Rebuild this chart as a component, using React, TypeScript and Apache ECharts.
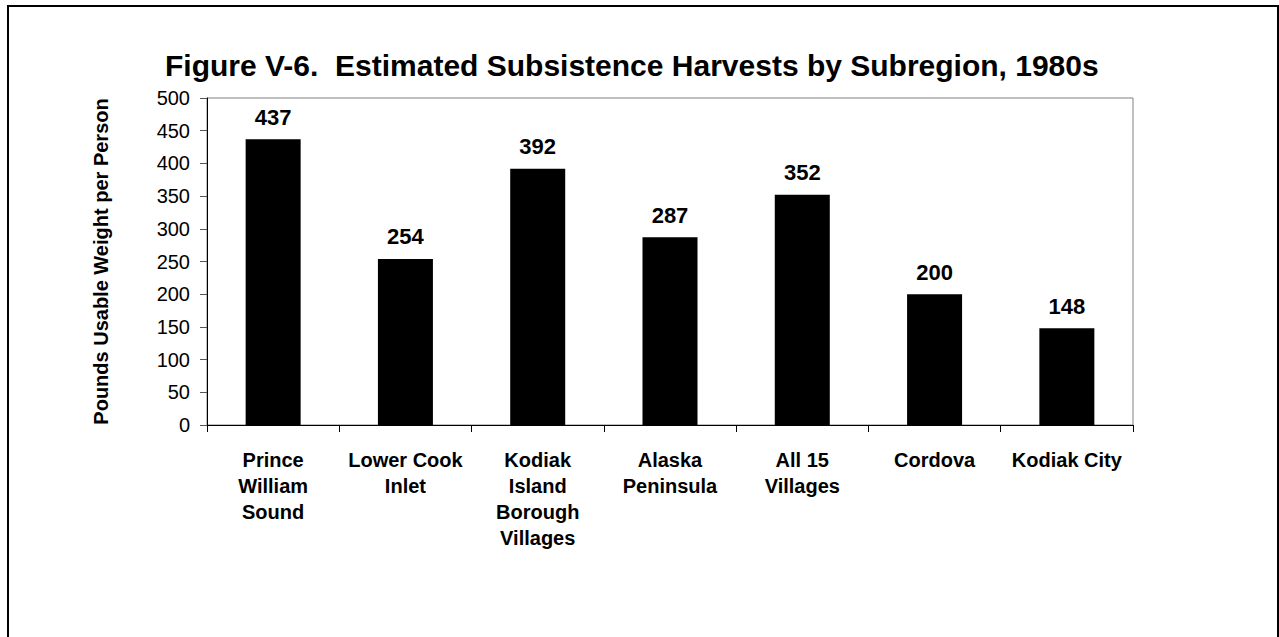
import React, { useEffect, useRef } from "react";
import * as echarts from "echarts";

const TITLE = "Figure V-6.  Estimated Subsistence Harvests by Subregion, 1980s";
const Y_NAME = "Pounds Usable Weight per Person";
const categories = [
  "Prince\nWilliam\nSound",
  "Lower Cook\nInlet",
  "Kodiak\nIsland\nBorough\nVillages",
  "Alaska\nPeninsula",
  "All 15\nVillages",
  "Cordova",
  "Kodiak City",
];
const values = [437, 254, 392, 287, 352, 200, 148];
const yMin = 0;
const yMax = 500;
const yInterval = 50;

const FONT = "'Liberation Sans', Arial, Helvetica, sans-serif";

export default function App() {
  const ref = useRef<HTMLDivElement>(null);
  useEffect(() => {
    if (!ref.current) return;
    const chart = echarts.init(ref.current, null, { renderer: "svg" });
    chart.setOption({
      animation: false,
      backgroundColor: "#ffffff",
      title: {
        text: TITLE,
        left: 160,
        top: 45,
        textStyle: {
          fontFamily: FONT,
          fontSize: 30,
          fontWeight: "bold",
          color: "#000",
        },
      },
      graphic: [
        {
          type: "rect",
          shape: { x: 8, y: 6, width: 1270, height: 680 },
          style: { fill: "none", stroke: "#000", lineWidth: 2 },
          silent: true,
        },
      ],
      grid: {
        left: 207,
        top: 98,
        right: 146,
        bottom: 212,
        show: true,
        borderColor: "#808080",
        borderWidth: 1,
        backgroundColor: "transparent",
      },
      xAxis: {
        type: "category",
        data: categories,
        boundaryGap: true,
        axisLine: { show: true, lineStyle: { color: "#000", width: 1 } },
        axisTick: {
          show: true,
          inside: false,
          length: 7,
          alignWithLabel: false,
          lineStyle: { color: "#000" },
        },
        axisLabel: {
          interval: 0,
          margin: 22,
          fontFamily: FONT,
          fontSize: 20,
          fontWeight: "bold",
          lineHeight: 26,
          color: "#000",
        },
        splitLine: { show: false },
      },
      yAxis: {
        type: "value",
        min: yMin,
        max: yMax,
        interval: yInterval,
        name: Y_NAME,
        nameLocation: "middle",
        nameRotate: 90,
        nameGap: 96,
        nameTextStyle: {
          fontFamily: FONT,
          fontSize: 20,
          fontWeight: "bold",
          color: "#000",
        },
        axisLine: { show: true, lineStyle: { color: "#000", width: 1 } },
        axisTick: {
          show: true,
          inside: false,
          length: 7,
          lineStyle: { color: "#555" },
        },
        axisLabel: {
          margin: 17,
          fontFamily: FONT,
          fontSize: 20,
          color: "#000",
        },
        splitLine: { show: false },
      },
      series: [
        {
          type: "bar",
          data: values,
          barWidth: 55,
          itemStyle: { color: "#000" },
          label: {
            show: true,
            position: "top",
            distance: 11,
            fontFamily: FONT,
            fontSize: 22,
            fontWeight: "bold",
            color: "#000",
          },
        },
      ],
    });
    return () => chart.dispose();
  }, []);
  return (
    <div
      ref={ref}
      style={{ position: "fixed", left: 0, top: 0, width: 1279, height: 637 }}
    />
  );
}
